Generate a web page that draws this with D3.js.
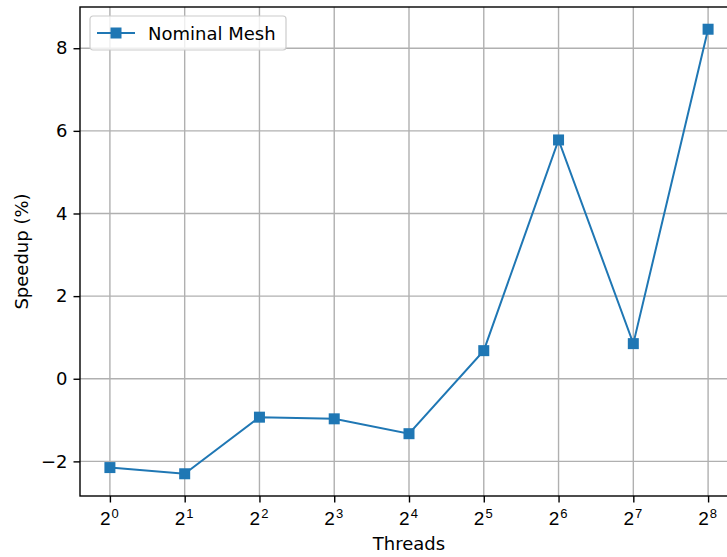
<!DOCTYPE html>
<html>
<head>
<meta charset="utf-8">
<script src="https://cdn.jsdelivr.net/npm/d3@7"></script>
<style>
  body { margin: 0; background: #fff; }
  svg { display: block; font-family: "DejaVu Sans", sans-serif; }
</style>
</head>
<body>
<div id="chart"></div>
<script>
// data
const threads = [1, 2, 4, 8, 16, 32, 64, 128, 256];
const speedup = [-2.15, -2.30, -0.93, -0.97, -1.33, 0.68, 5.78, 0.85, 8.46];
const yTicks = [-2, 0, 2, 4, 6, 8];
const seriesName = "Nominal Mesh";

const width = 727, height = 557;
const margin = { top: 7, right: -11, bottom: 61, left: 80 };
const color = "#1f77b4";

const svg = d3.select("#chart")
    .append("svg")
    .attr("width", width)
    .attr("height", height);

const innerW = width - margin.left - margin.right;
const innerH = height - margin.top - margin.bottom;

// matplotlib-style 5% margins
const lx = d3.extent(threads, d => Math.log2(d));
const padX = (lx[1] - lx[0]) * 0.05;
const x = d3.scaleLog().base(2)
    .domain([Math.pow(2, lx[0] - padX), Math.pow(2, lx[1] + padX)])
    .range([0, innerW]);

const ey = d3.extent(speedup);
const padY = (ey[1] - ey[0]) * 0.05;
const y = d3.scaleLinear()
    .domain([ey[0] - padY, ey[1] + padY])
    .range([innerH, 0]);

const g = svg.append("g")
    .attr("transform", `translate(${margin.left},${margin.top})`);

// grid
g.append("g").selectAll("line")
    .data(threads)
    .enter().append("line")
    .attr("x1", d => x(d)).attr("x2", d => x(d))
    .attr("y1", 0).attr("y2", innerH)
    .style("stroke", "#b0b0b0").style("stroke-width", 1.4);

g.append("g").selectAll("line")
    .data(yTicks)
    .enter().append("line")
    .attr("x1", 0).attr("x2", innerW)
    .attr("y1", d => y(d)).attr("y2", d => y(d))
    .style("stroke", "#b0b0b0").style("stroke-width", 1.4);

// axes
const xAxis = g.append("g")
    .attr("transform", `translate(0,${innerH})`)
    .call(d3.axisBottom(x).tickValues(threads).tickSize(6.5).tickPadding(6).tickFormat(""));
xAxis.select(".domain").remove();
xAxis.selectAll(".tick line").style("stroke", "#000").style("stroke-width", 1.4);

xAxis.selectAll(".tick")
    .append("text")
    .attr("y", 29)
    .attr("x", -1)
    .attr("fill", "#000")
    .style("font-size", "19px")
    .attr("text-anchor", "middle")
    .each(function (d) {
        const t = d3.select(this);
        t.append("tspan").text("2");
        t.append("tspan")
            .attr("dy", -7.5)
            .attr("dx", 1)
            .style("font-size", "13px")
            .text(Math.log2(d));
    });

const yAxis = g.append("g")
    .call(d3.axisLeft(y).tickValues(yTicks).tickSize(6.5).tickPadding(6).tickFormat(d3.format("d")));
yAxis.select(".domain").remove();
yAxis.selectAll(".tick line").style("stroke", "#000").style("stroke-width", 1.4);
yAxis.selectAll(".tick text").style("font-size", "18px").attr("fill", "#000")
    .attr("font-family", "DejaVu Sans, sans-serif");

// frame
g.append("rect")
    .attr("x", 0).attr("y", 0)
    .attr("width", innerW).attr("height", innerH)
    .style("fill", "none").style("stroke", "#000").style("stroke-width", 1.4);

// series
const line = d3.line()
    .x((d, i) => x(threads[i]))
    .y(d => y(d));

g.append("path")
    .datum(speedup)
    .attr("d", line)
    .style("fill", "none")
    .style("stroke", color)
    .style("stroke-width", 2);

const ms = 11;
g.selectAll(".marker")
    .data(speedup)
    .enter().append("rect")
    .attr("class", "marker")
    .attr("x", (d, i) => x(threads[i]) - ms / 2)
    .attr("y", d => y(d) - ms / 2)
    .attr("width", ms).attr("height", ms)
    .style("fill", color);

// labels
svg.append("text")
    .attr("x", margin.left + innerW / 2)
    .attr("y", 550)
    .attr("text-anchor", "middle")
    .style("font-size", "18px")
    .text("Threads");

svg.append("text")
    .attr("transform", `translate(28,${margin.top + innerH / 2}) rotate(-90)`)
    .attr("text-anchor", "middle")
    .style("font-size", "18px")
    .text("Speedup (%)");

// legend
const leg = g.append("g").attr("transform", "translate(10,9)");
leg.append("rect")
    .attr("width", 196).attr("height", 34)
    .attr("rx", 3)
    .style("fill", "#fff").style("fill-opacity", 0.8)
    .style("stroke", "#cccccc").style("stroke-width", 1.2);
leg.append("line")
    .attr("x1", 7).attr("x2", 45)
    .attr("y1", 17).attr("y2", 17)
    .style("stroke", color).style("stroke-width", 2);
leg.append("rect")
    .attr("x", 26 - ms / 2).attr("y", 17 - ms / 2)
    .attr("width", ms).attr("height", ms)
    .style("fill", color);
leg.append("text")
    .attr("x", 58).attr("y", 23.5)
    .style("font-size", "18px")
    .text(seriesName);
</script>
</body>
</html>
